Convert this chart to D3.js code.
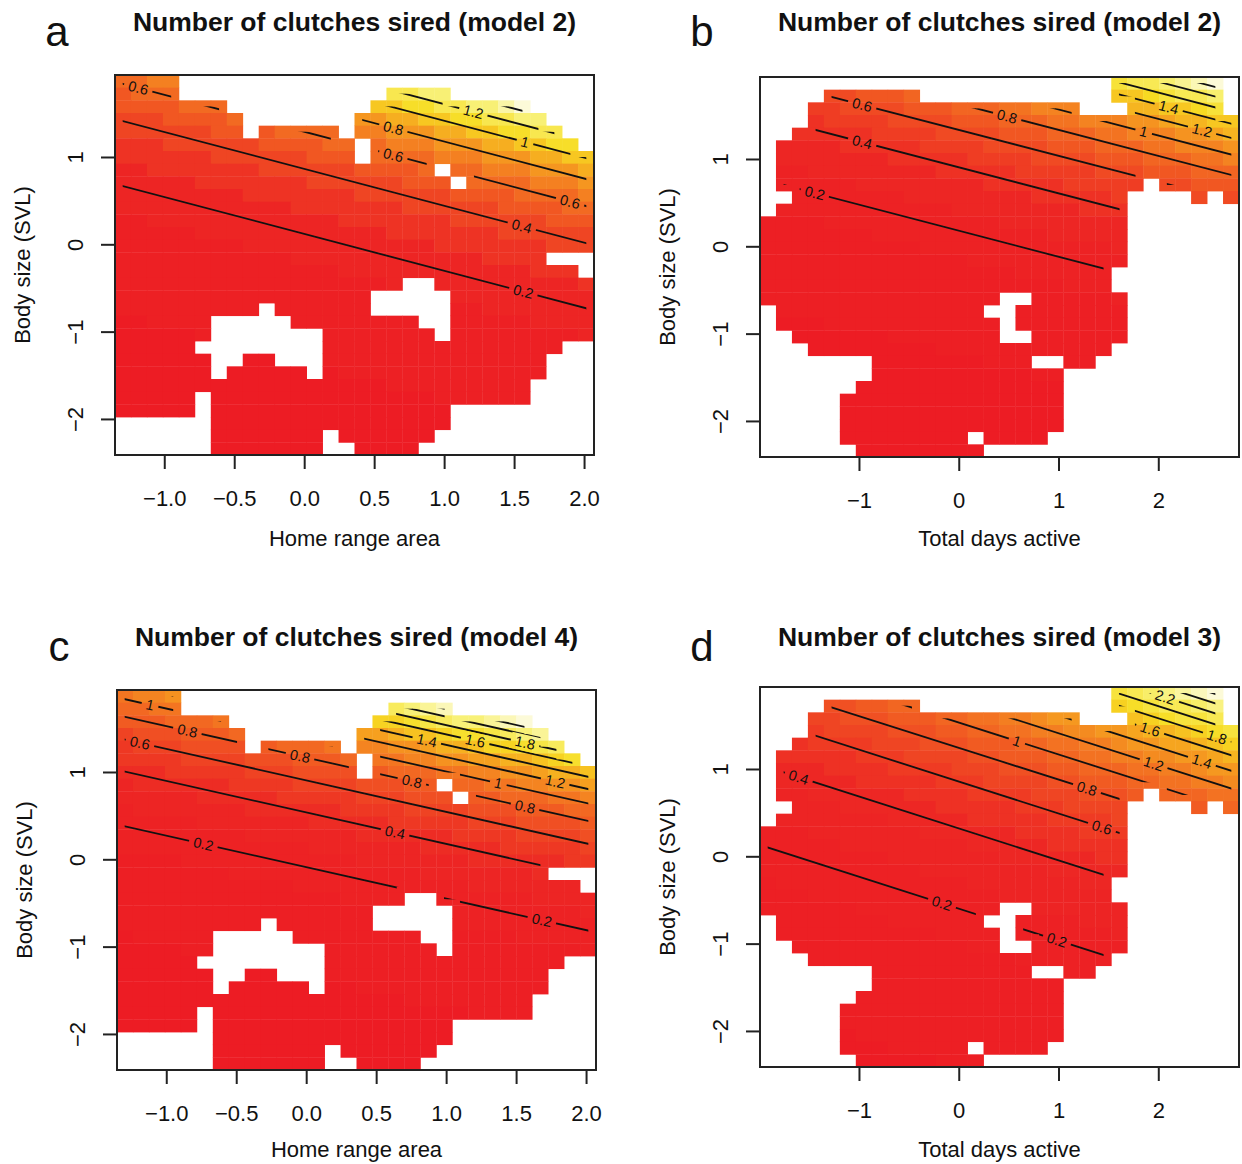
<!DOCTYPE html>
<html>
<head>
<meta charset="utf-8">
<script src="https://cdn.jsdelivr.net/npm/d3@7"></script>
<style>
  body { margin: 0; background: #fff; }
  text { font-family: "Liberation Sans", Arial, sans-serif; }
</style>
</head>
<body>
<div id="chart"></div>
<script>
// value codes: each character is the predicted number of clutches x10, "." = no data
var valueCodes = "0123456789ABCDEFGHIJKLMNOPQ";

// axis ranges and ticks
var homeRangeExtent = [-1.352, 2.071];
var daysActiveExtent = [-1.992, 2.809];
var bodySizeExtent = [-2.413, 1.939];
var homeRangeTicks = [-1, -0.5, 0, 0.5, 1, 1.5, 2];
var daysActiveTicks = [-1, 0, 1, 2];
var bodySizeTicks = [-2, -1, 0, 1];

// image grids, rows from the top (largest body size) down, 30 columns each
var gridHomeRangeM2 = [
  "6677",
  "5666.............CCDD",
  "5555666.........AABBCCDDEF",
  "44455556.......8899AABBCCDD",
  "44444455.56666.7788899AABBCC",
  "333444444555566.677788899AABB",
  "333333444444555.666677788899AA",
  "22333333344444455556.667778889",
  "222223333333444444555.66667778",
  "222222223333333444444555566667",
  "222222222223333333444444555566",
  "112222222222223333333444444555",
  "111112222222222223333333444444",
  "111111112222222222223333333444",
  "111111111112222222222223333",
  "11111111111111222222222222333",
  "111111111111111112..2222222223",
  "1111111111111111.....222222222",
  "111111111.111111.....112222222",
  "001111.....11111111..111112222",
  "000001.......1111111.111111112",
  "00000........111111111111111",
  "000000..00...11111111111111",
  "000000.00000.01111111111111",
  "00000000000000000111111111",
  "00000.00000000000000111111",
  "00000.000000000000000",
  "......000000000000000",
  "......0000000.000000",
  "......0000000..0000"
];

var gridDaysActiveM2 = [
  "......................GHHIJKL",
  "....667778............EEFGHHI",
  "...55666677788899AAA...DDEEFG",
  "...45555666677788899AAABBCDDEE",
  "..444445555666677788899AAABBCD",
  ".3333444445555666677788899AAAB",
  ".3333333444445555666677788899A",
  ".22333333334444455555666777888",
  ".22222333333334444455555.66777",
  "..222222233333333444445....6.6",
  ".2222222222233333333444",
  "11112222222222233333333",
  "11111112222222222233333",
  "11111111112222222222223",
  "11111111111112222222222",
  "1111111111111111222222",
  "1111111111111111111222",
  "111111111111111..111112",
  ".1111111111111..1111111",
  ".00011111111111.1111111",
  "..0000001111111..111111",
  "...0000000011111111111",
  ".......0000000111..11",
  ".......000000000011",
  "......0000000000000",
  ".....00000000000000",
  ".....00000000000000",
  ".....00000000000000",
  ".....00000000.0000",
  "......00000000"
];

var gridHomeRangeM4 = [
  "ABBC",
  "99AA.............JKLM",
  "888999A.........GGHIJKKLMN",
  "67778889.......DDEFFGHHIJKL",
  "56667777.8999A.BBCCDEEFGGHIJ",
  "555566667778889.AABBCCDDEEFGH",
  "444555556667777.8999AABBCCDEEF",
  "34444445555666677788.99AABBCCD",
  "333334444455555666777.88999AAB",
  "233333334444445555666677788899",
  "222223333333444445555566677778",
  "222222223333333444444555566667",
  "222222222222333333344444555556",
  "111122222222222333333344444455",
  "111111122222222222233333334",
  "11111111111222222222223333333",
  "111111111111112222..2222223333",
  "1111111111111111.....222222223",
  "111111111.111111.....222222222",
  "011111.....11111111..111122222",
  "000011.......1111111.111111112",
  "00000........111111111111111",
  "000000..00...11111111111111",
  "000000.00000.00111111111111",
  "00000000000000000011111111",
  "00000.00000000000000001111",
  "00000.000000000000000",
  "......000000000000000",
  "......0000000.000000",
  "......0000000..0000"
];

var gridDaysActiveM3 = [
  "......................KLMNOPQ",
  "....8899AA............IJKLLMN",
  "...77888999AABBCCDEE...HIJKKL",
  "...6777788899AABBCCDDEEFGGHIJK",
  "..56666777888999AABBCCDEEFFGHI",
  ".55555666777788999AABBCCDDEEFG",
  ".4445555666677788899AAABBCCDEE",
  ".4444455555666777788999AABBCCD",
  ".33444444555566667778889.AAABB",
  "..333444444555556667777....9.A",
  ".3333333444445555566667",
  "22233333334444445555666",
  "22222333333334444455555",
  "22222222333333344444455",
  "22222222223333333344444",
  "1222222222222333333344",
  "1112222222222223333333",
  "111111222222222..333333",
  ".1111111222222..2222333",
  ".11111111112222.2222223",
  "..1111111111122..222222",
  "...1111111111111222222",
  ".......1111111111..22",
  ".......111111111111",
  "......1111111111111",
  ".....11111111111111",
  ".....11111111111111",
  ".....01111111111111",
  ".....00011111.1111",
  "......00000111"
];

// contour lines: level, then two points (x, body size) on the line
var contoursHomeRangeM2 = [
  [0.2, -1.352, 0.691, 2.071, -0.756],
  [0.4, -1.352, 1.435, 2.071, -0.011],
  [0.6, -1.352, 1.861, 2.071, 0.415],
  [0.8, -1.352, 2.171, 2.071, 0.724],
  [1.0, -1.352, 2.410, 2.071, 0.963],
  [1.2, -1.352, 2.600, 2.071, 1.153],
  [1.4, -1.352, 2.759, 2.071, 1.313]
];
var contoursDaysActiveM2 = [
  [0.2, -1.987, 0.771, 2.813, -0.660],
  [0.4, -1.987, 1.497, 2.813, 0.067],
  [0.6, -1.987, 1.922, 2.813, 0.499],
  [0.8, -1.987, 2.224, 2.813, 0.793],
  [1.0, -1.987, 2.457, 2.813, 1.027],
  [1.2, -1.987, 2.648, 2.813, 1.217],
  [1.4, -1.987, 2.810, 2.813, 1.380],
  [1.6, -1.987, 2.949, 2.813, 1.519],
  [1.8, -1.987, 3.073, 2.813, 1.643],
  [2.0, -1.987, 3.184, 2.813, 1.753]
];
var contoursHomeRangeM4 = [
  [0.2, -1.352, 0.398, 2.072, -0.837],
  [0.4, -1.352, 1.025, 2.072, -0.210],
  [0.6, -1.352, 1.392, 2.072, 0.157],
  [0.8, -1.352, 1.653, 2.072, 0.418],
  [1.0, -1.352, 1.854, 2.072, 0.619],
  [1.2, -1.352, 2.019, 2.072, 0.784],
  [1.4, -1.352, 2.159, 2.072, 0.924],
  [1.6, -1.352, 2.279, 2.072, 1.044],
  [1.8, -1.352, 2.386, 2.072, 1.150],
  [2.0, -1.352, 2.482, 2.072, 1.247],
  [2.2, -1.352, 2.568, 2.072, 1.333],
  [2.4, -1.352, 2.647, 2.072, 1.412]
];
var contoursDaysActiveM3 = [
  [0.2, -1.992, 0.129, 2.808, -1.627],
  [0.4, -1.992, 1.048, 2.808, -0.708],
  [0.6, -1.992, 1.585, 2.808, -0.171],
  [0.8, -1.992, 1.966, 2.808, 0.222],
  [1.0, -1.992, 2.260, 2.808, 0.506],
  [1.2, -1.992, 2.504, 2.808, 0.748],
  [1.4, -1.992, 2.708, 2.808, 0.952],
  [1.6, -1.992, 2.885, 2.808, 1.129],
  [1.8, -1.992, 3.041, 2.808, 1.285],
  [2.0, -1.992, 3.181, 2.808, 1.424],
  [2.2, -1.992, 3.307, 2.808, 1.550],
  [2.4, -1.992, 3.423, 2.808, 1.665],
  [2.6, -1.992, 3.529, 2.808, 1.772]
];

// contour labels: level and x position along that line
var labelsHomeRangeM2 = [[0.6, -1.186], [0.8, 0.637], [0.6, 0.637], [1.2, 1.209], [1, 1.578], [0.6, 1.900], [0.4, 1.555], [0.2, 1.566]];
var labelsDaysActiveM2 = [[0.6, -0.968], [0.4, -0.968], [0.2, -1.443], [0.8, 0.485], [1, 1.854], [1.2, 2.439], [1.4, 2.104]];
var labelsHomeRangeM4 = [[1, -1.116], [0.8, -0.849], [0.6, -1.188], [0.8, -0.044], [0.2, -0.735], [0.4, 0.635], [0.8, 0.755],
  [1.4, 0.862], [1.6, 1.207], [1.8, 1.564], [1, 1.373], [1.2, 1.779], [0.8, 1.564], [0.2, 1.684]];
var labelsDaysActiveM3 = [[0.4, -1.604], [1, 0.583], [0.8, 1.285], [0.6, 1.435], [0.2, -0.168], [0.2, 0.984],
  [1.2, 1.953], [1.4, 2.437], [1.6, 1.919], [1.8, 2.587], [2.2, 2.069]];

// set the dimensions of each panel
var width = 479, height = 380;
var nCol = 30;

var panels = [
  {letter: "a", title: "Number of clutches sired (model 2)", xLabel: "Home range area", grid: gridHomeRangeM2,
   contours: contoursHomeRangeM2, labels: labelsHomeRangeM2, xExtent: homeRangeExtent, xTicks: homeRangeTicks,
   xFormat: d3.format(".1f"), left: 115, top: 75, rowTop: 0, xLabelGap: 91},
  {letter: "b", title: "Number of clutches sired (model 2)", xLabel: "Total days active", grid: gridDaysActiveM2,
   contours: contoursDaysActiveM2, labels: labelsDaysActiveM2, xExtent: daysActiveExtent, xTicks: daysActiveTicks,
   xFormat: d3.format("d"), left: 760, top: 77, rowTop: 0, xLabelGap: 89},
  {letter: "c", title: "Number of clutches sired (model 4)", xLabel: "Home range area", grid: gridHomeRangeM4,
   contours: contoursHomeRangeM4, labels: labelsHomeRangeM4, xExtent: homeRangeExtent, xTicks: homeRangeTicks,
   xFormat: d3.format(".1f"), left: 117, top: 690, rowTop: 615, xLabelGap: 87},
  {letter: "d", title: "Number of clutches sired (model 3)", xLabel: "Total days active", grid: gridDaysActiveM3,
   contours: contoursDaysActiveM3, labels: labelsDaysActiveM3, xExtent: daysActiveExtent, xTicks: daysActiveTicks,
   xFormat: d3.format("d"), left: 760, top: 687, rowTop: 615, xLabelGap: 90}
];

// heat colours, red -> orange -> yellow -> near white
var heat = d3.scaleLinear()
  .domain([0, 0.15, 0.25, 0.4, 0.57, 0.72, 0.86, 1])
  .range(["#ed1c24", "#ed2624", "#ef4023", "#f26a22", "#f6a21f", "#f7dc22", "#f8f070", "#fcfad8"])
  .clamp(true);

var svg = d3.select("#chart")
  .append("svg")
    .attr("width", 1242)
    .attr("height", 1164);
var defs = svg.append("defs");

function readGrid(rows) {
  return rows.map(function(r) {
    return r.padEnd(nCol, ".").slice(0, nCol).split("").map(function(c) {
      return c === "." ? null : valueCodes.indexOf(c) / 10;
    });
  });
}

function drawPanel(p) {
  var g = svg.append("g")
    .attr("transform", "translate(" + p.left + "," + p.top + ")");

  var x = d3.scaleLinear().domain(p.xExtent).range([0, width]);
  var y = d3.scaleLinear().domain(bodySizeExtent).range([height, 0]);

  var z = readGrid(p.grid);
  var nRow = z.length;
  var dx = (p.xExtent[1] - p.xExtent[0]) / nCol;
  var dy = (bodySizeExtent[1] - bodySizeExtent[0]) / nRow;
  var colEdge = function(j) { return x(p.xExtent[0] + j * dx); };
  var rowEdge = function(i) { return y(bodySizeExtent[1] - i * dy); };

  var cells = [];
  z.forEach(function(row, i) {
    row.forEach(function(v, j) { if (v !== null) cells.push({i: i, j: j, v: v}); });
  });
  var ext = d3.extent(cells, function(d) { return d.v; });

  // image cells
  g.append("g").selectAll("rect")
    .data(cells)
    .enter().append("rect")
      .attr("x", function(d) { return colEdge(d.j); })
      .attr("y", function(d) { return rowEdge(d.i); })
      .attr("width", function(d) { return colEdge(d.j + 1) - colEdge(d.j) + 0.4; })
      .attr("height", function(d) { return rowEdge(d.i + 1) - rowEdge(d.i) + 0.4; })
      .attr("fill", function(d) { return heat((d.v - ext[0]) / (ext[1] - ext[0])); });

  // contours only exist between cell centres that all have data
  var clip = defs.append("clipPath").attr("id", "clip-" + p.letter);
  for (var i = 0; i < nRow - 1; i++) {
    for (var j = 0; j < nCol - 1; j++) {
      if (z[i][j] !== null && z[i + 1][j] !== null && z[i][j + 1] !== null && z[i + 1][j + 1] !== null) {
        var x0 = colEdge(j + 0.5), x1 = colEdge(j + 1.5);
        var y0 = rowEdge(i + 0.5), y1 = rowEdge(i + 1.5);
        clip.append("rect")
          .attr("x", x0 - 0.3).attr("y", y0 - 0.3)
          .attr("width", x1 - x0 + 0.6).attr("height", y1 - y0 + 0.6);
      }
    }
  }

  var byLevel = {};
  p.contours.forEach(function(c) { byLevel[c[0]] = c; });

  // labels, rotated along their line
  var labelG = g.append("g");
  var gaps = [];
  p.labels.forEach(function(l) {
    var c = byLevel[l[0]];
    var ly = c[2] + (l[1] - c[1]) * (c[4] - c[2]) / (c[3] - c[1]);
    var px = x(l[1]), py = y(ly);
    var angle = Math.atan2(y(c[4]) - y(c[2]), x(c[3]) - x(c[1])) * 180 / Math.PI;
    var t = labelG.append("text")
      .attr("transform", "translate(" + px + "," + py + ") rotate(" + angle + ")")
      .attr("text-anchor", "middle")
      .attr("dy", "0.35em")
      .attr("font-size", 14.5)
      .attr("fill", "#111")
      .text(String(l[0]));
    gaps.push({px: px, py: py, angle: angle, w: t.node().getComputedTextLength() + 9});
  });

  var mask = defs.append("mask").attr("id", "mask-" + p.letter)
    .attr("maskUnits", "userSpaceOnUse")
    .attr("x", 0).attr("y", 0).attr("width", width).attr("height", height);
  mask.append("rect").attr("width", width).attr("height", height).attr("fill", "white");
  gaps.forEach(function(gp) {
    mask.append("rect")
      .attr("x", -gp.w / 2).attr("y", -8).attr("width", gp.w).attr("height", 16)
      .attr("transform", "translate(" + gp.px + "," + gp.py + ") rotate(" + gp.angle + ")")
      .attr("fill", "black");
  });

  g.insert("g", function() { return labelG.node(); })
    .attr("clip-path", "url(#clip-" + p.letter + ")")
    .append("g")
      .attr("mask", "url(#mask-" + p.letter + ")")
    .selectAll("line")
    .data(p.contours)
    .enter().append("line")
      .attr("x1", function(c) { return x(c[1]); })
      .attr("y1", function(c) { return y(c[2]); })
      .attr("x2", function(c) { return x(c[3]); })
      .attr("y2", function(c) { return y(c[4]); })
      .attr("stroke", "#111")
      .attr("stroke-width", 1.8);

  // box
  g.append("rect")
    .attr("width", width).attr("height", height)
    .attr("fill", "none").attr("stroke", "#222").attr("stroke-width", 2);

  // Add X axis
  g.append("g")
    .attr("transform", "translate(0," + height + ")")
    .call(d3.axisBottom(x).tickValues(p.xTicks).tickSize(14).tickPadding(21).tickFormat(p.xFormat))
    .attr("font-size", 22)
    .attr("font-family", "Liberation Sans, Arial, sans-serif")
    .call(function(a) { a.select(".domain").remove(); })
    .call(function(a) { a.selectAll("line").attr("stroke", "#222").attr("stroke-width", 2); })
    .call(function(a) { a.selectAll("text").attr("fill", "#111"); });

  // Add Y axis, labels parallel to the axis
  g.append("g")
    .call(d3.axisLeft(y).tickValues(bodySizeTicks).tickSize(14).tickFormat(d3.format("d")))
    .attr("font-size", 22)
    .attr("font-family", "Liberation Sans, Arial, sans-serif")
    .call(function(a) { a.select(".domain").remove(); })
    .call(function(a) { a.selectAll("line").attr("stroke", "#222").attr("stroke-width", 2); })
    .call(function(a) {
      a.selectAll("text")
        .attr("x", null).attr("dy", null)
        .attr("fill", "#111")
        .attr("text-anchor", "middle")
        .attr("transform", "translate(-32,0) rotate(-90)");
    });

  g.append("text")
    .attr("x", width / 2).attr("y", height + p.xLabelGap)
    .attr("text-anchor", "middle")
    .attr("font-size", 22)
    .attr("fill", "#111")
    .text(p.xLabel);

  g.append("text")
    .attr("transform", "translate(-85," + (height / 2) + ") rotate(-90)")
    .attr("text-anchor", "middle")
    .attr("font-size", 22)
    .attr("fill", "#111")
    .text("Body size (SVL)");

  // title and panel letter
  svg.append("text")
    .attr("x", p.left + width / 2).attr("y", p.rowTop + 31)
    .attr("text-anchor", "middle")
    .attr("font-size", 26.5)
    .attr("font-weight", "bold")
    .attr("fill", "#111")
    .text(p.title);

  svg.append("text")
    .attr("x", p.left - 58).attr("y", p.rowTop + 46)
    .attr("text-anchor", "middle")
    .attr("font-size", 42)
    .attr("fill", "#111")
    .text(p.letter);
}

panels.forEach(drawPanel);
</script>
</body>
</html>
